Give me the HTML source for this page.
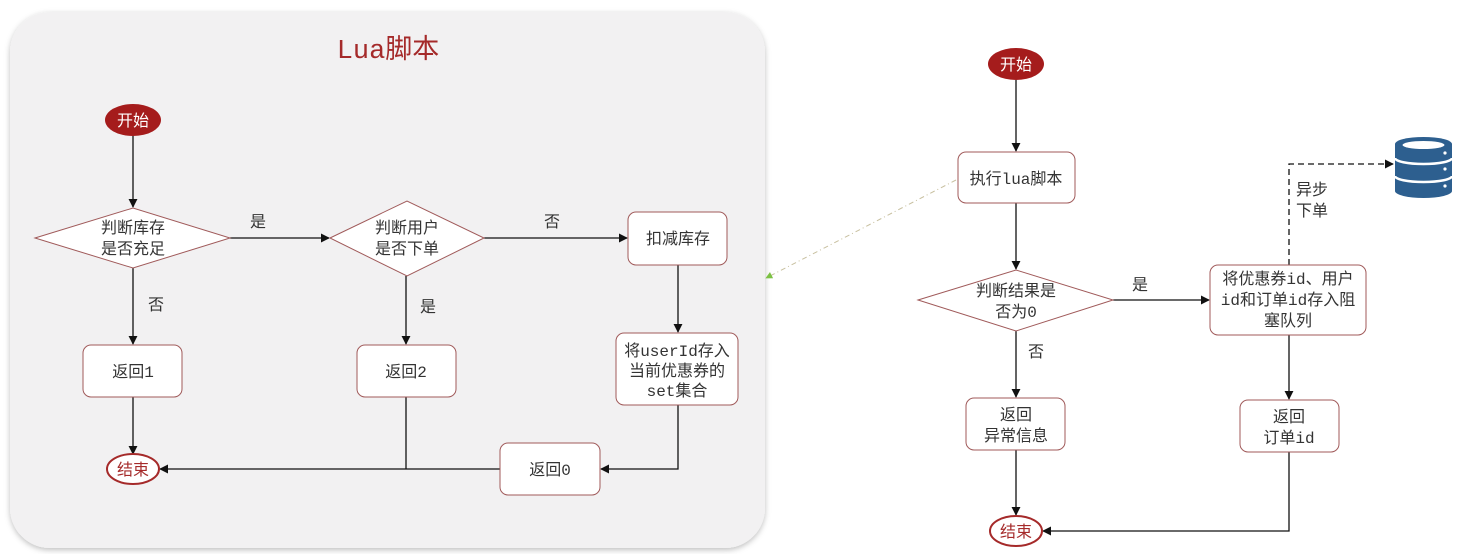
<!DOCTYPE html>
<html><head><meta charset="utf-8"><style>
html,body{margin:0;padding:0;background:#fff;}
svg{display:block;}
text{font-family:"Liberation Mono","Noto Sans CJK SC",monospace;font-size:16px;fill:#333;}
</style></head><body>
<svg width="1472" height="554" viewBox="0 0 1472 554" xmlns="http://www.w3.org/2000/svg">
<defs>
<marker id="a" viewBox="0 0 10 10" refX="9" refY="5" markerWidth="7" markerHeight="7" orient="auto"><path d="M0,0L10,5L0,10z" fill="#111"/></marker>
<marker id="g" viewBox="0 0 10 10" refX="9" refY="5" markerWidth="7" markerHeight="7" orient="auto"><path d="M0,0L10,5L0,10z" fill="#7cc144"/></marker>
<filter id="s" x="-5%" y="-5%" width="110%" height="110%"><feDropShadow dx="0" dy="2" stdDeviation="3" flood-color="#000" flood-opacity="0.25"/></filter>
</defs>
<rect x="10" y="12" width="755" height="536" rx="40" fill="#f2f1f2" filter="url(#s)"/>
<text x="388" y="58" text-anchor="middle" style="font-size:27px;fill:#a52a2a">Lua脚本</text>

<g stroke="#111" stroke-width="1.3" fill="none">
<line x1="133" y1="135" x2="133" y2="207" marker-end="url(#a)"/>
<line x1="230" y1="238" x2="329" y2="238" marker-end="url(#a)"/>
<line x1="484" y1="238" x2="627" y2="238" marker-end="url(#a)"/>
<line x1="133" y1="268" x2="133" y2="344" marker-end="url(#a)"/>
<line x1="406" y1="276" x2="406" y2="344" marker-end="url(#a)"/>
<line x1="678" y1="265" x2="678" y2="332" marker-end="url(#a)"/>
<line x1="133" y1="397" x2="133" y2="454" marker-end="url(#a)"/>
<polyline points="406,397 406,469"/>
<line x1="500" y1="469" x2="160" y2="469" marker-end="url(#a)"/>
<polyline points="678,405 678,469 601,469" marker-end="url(#a)"/>
<line x1="1016" y1="80" x2="1016" y2="151" marker-end="url(#a)"/>
<line x1="1016" y1="203" x2="1016" y2="269" marker-end="url(#a)"/>
<line x1="1113" y1="300" x2="1209" y2="300" marker-end="url(#a)"/>
<line x1="1016" y1="331" x2="1016" y2="397" marker-end="url(#a)"/>
<line x1="1016" y1="450" x2="1016" y2="515" marker-end="url(#a)"/>
<line x1="1289" y1="335" x2="1289" y2="399" marker-end="url(#a)"/>
<polyline points="1289,452 1289,531 1043,531" marker-end="url(#a)"/>
<polyline points="1289,265 1289,164 1393,164" stroke-dasharray="6,4" marker-end="url(#a)"/>
</g>
<line x1="956" y1="180" x2="766" y2="278" stroke="#c8c0a0" stroke-width="1" stroke-dasharray="5,3,1,3" marker-end="url(#g)"/>

<g fill="#fff" stroke="#a05a5a" stroke-width="1">
<polygon points="35,238 133,208 230,238 133,268"/>
<polygon points="330,238 407,201 484,238 407,276"/>
<rect x="628" y="212" width="99" height="53" rx="8"/>
<rect x="83" y="345" width="99" height="52" rx="8"/>
<rect x="357" y="345" width="99" height="52" rx="8"/>
<rect x="616" y="333" width="122" height="72" rx="8"/>
<rect x="500" y="443" width="100" height="52" rx="8"/>
<ellipse cx="133" cy="469" rx="26" ry="15" stroke="#a52a2a" stroke-width="2"/>
<rect x="958" y="152" width="117" height="51" rx="8"/>
<polygon points="918,300 1016,270 1113,300 1016,331"/>
<rect x="1210" y="265" width="156" height="70" rx="8"/>
<rect x="966" y="398" width="99" height="52" rx="8"/>
<rect x="1240" y="400" width="99" height="52" rx="8"/>
<ellipse cx="1016" cy="531" rx="26" ry="15" stroke="#a52a2a" stroke-width="2"/>
</g>
<ellipse cx="133" cy="120" rx="28" ry="16" fill="#a51c1c"/>
<ellipse cx="1016" cy="64" rx="28" ry="16" fill="#a51c1c"/>

<g text-anchor="middle">
<text x="133" y="126" style="fill:#fff">开始</text>
<text x="1016" y="70" style="fill:#fff">开始</text>
<text x="133" y="475" style="fill:#a52a2a">结束</text>
<text x="1016" y="537" style="fill:#a52a2a">结束</text>
<text x="133" y="233">判断库存</text><text x="133" y="254">是否充足</text>
<text x="407" y="233">判断用户</text><text x="407" y="254">是否下单</text>
<text x="678" y="244">扣减库存</text>
<text x="133" y="377">返回1</text>
<text x="406" y="377">返回2</text>
<text x="677" y="356">将userId存入</text><text x="677" y="376">当前优惠券的</text><text x="677" y="396">set集合</text>
<text x="550" y="475">返回0</text>
<text x="258" y="227">是</text><text x="552" y="227">否</text>
<text x="156" y="310">否</text><text x="428" y="312">是</text>
<text x="1016" y="184">执行lua脚本</text>
<text x="1016" y="296">判断结果是</text><text x="1016" y="317">否为0</text>
<text x="1288" y="284">将优惠券id、用户</text><text x="1288" y="305">id和订单id存入阻</text><text x="1288" y="326">塞队列</text>
<text x="1016" y="420">返回</text><text x="1016" y="441">异常信息</text>
<text x="1289" y="422">返回</text><text x="1289" y="443">订单id</text>
<text x="1140" y="290">是</text><text x="1036" y="357">否</text>
<text x="1312" y="195">异步</text><text x="1312" y="216">下单</text>
</g>
<g fill="#2d5f8f">
<path d="M1395,144 A28.5,7 0 0 1 1452,144 L1452,191 A28.5,7 0 0 1 1395,191 Z"/>
</g>
<g stroke="#fff" stroke-width="2.5" fill="none">
<path d="M1395,158 A28.5,6 0 0 0 1452,158"/><path d="M1395,176 A28.5,6 0 0 0 1452,176"/>
</g>
<ellipse cx="1423.5" cy="145" rx="21" ry="4" fill="#fff"/>
<g fill="#fff"><circle cx="1445" cy="153" r="1.6"/><circle cx="1445" cy="169" r="1.6"/><circle cx="1445" cy="186" r="1.6"/></g>
</svg>
</body></html>
